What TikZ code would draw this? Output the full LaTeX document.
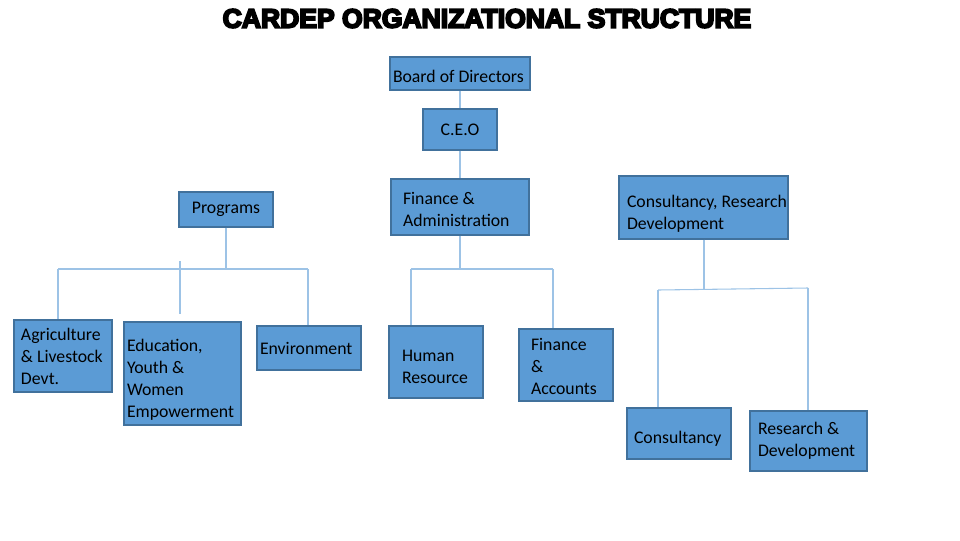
\documentclass[tikz,border=0pt]{standalone}
\usepackage{fontspec}
\usepackage{tikz}
\usepackage{xcolor}
\setmainfont{Carlito}
\font\cardepTitle="Liberation Sans/B:embolden=7" at 19.9pt
\usetikzlibrary{positioning,calc}
\definecolor{orgFill}{HTML}{5B9BD5}
\definecolor{orgEdge}{HTML}{41719C}
\definecolor{orgLink}{HTML}{9DC3E6}
\tikzset{
  orgBox/.style={draw=orgEdge, fill=orgFill, line width=0.9pt, align=flush left, inner ysep=0pt, font=\fontsize{13.3}{16.5}\selectfont},
  orgDrop/.style={execute at begin node={\rule{0pt}{#1}}},
  orgLine/.style={draw=orgLink, line width=0.8pt},
  titleText/.style={font=\cardepTitle, inner sep=0pt}
}

\begin{document}
\begin{tikzpicture}[x=0.75pt, y=-0.75pt]
  \useasboundingbox (0,0) rectangle (960,540);
  \node[titleText] (title) at (487,18.5) {CARDEP ORGANIZATIONAL STRUCTURE};
  \node[orgBox, orgDrop=14pt, minimum height=24.75pt, inner xsep=2.25pt, text width=100.5pt] (board) at (460,73.5) {\mbox{Board of Directors}};
  \node[orgBox, align=center, minimum width=55.5pt, minimum height=30.75pt] (ceo) at (460,129.5) {C.E.O};
  \node[orgBox, orgDrop=13.5pt, minimum height=42pt, inner xsep=9pt, text width=85.5pt] (finadm) at (460,207) {\mbox{Finance \&}\\Administration};
  \node[orgBox, align=center, minimum width=70.5pt, minimum height=26.25pt] (programs) at (226,209.5) {Programs};
  \node[orgBox, orgDrop=18.5pt, minimum height=47.25pt, inner xsep=6pt, text width=114.75pt] (crd) at (703.5,207.5) {\mbox{Consultancy, Research}\\Development};
  \node[orgBox, minimum height=54pt, inner xsep=5.25pt, text width=63pt] (agri) at (63,356) {Agriculture\\\mbox{\& Livestock}\\Devt.};
  \node[orgBox, orgDrop=18.5pt, minimum height=77.25pt, inner xsep=2.25pt, text width=83.25pt] (edu) at (182.5,373.5) {Education,\\\mbox{Youth \&}\\Women\\Empowerment};
  \node[orgBox, minimum height=33pt, inner xsep=2.25pt, text width=73.5pt] (env) at (309,348) {Environment};
  \node[orgBox, orgDrop=16.3pt, minimum height=54pt, inner xsep=9.75pt, text width=51pt] (hr) at (436,362) {Human\\Resource};
  \node[orgBox, orgDrop=11pt, minimum height=54pt, inner xsep=9pt, text width=52.5pt] (finacc) at (566,365) {Finance\\\&\\Accounts};
  \node[orgBox, orgDrop=17pt, minimum height=38.25pt, inner xsep=5.25pt, text width=67.5pt] (cons) at (679,433.5) {Consultancy};
  \node[orgBox, minimum height=45pt, inner xsep=6pt, text width=75.75pt] (resdev) at (808.5,441) {\mbox{Research \&}\\Development};
  \coordinate (progBar) at (226,270);
  \coordinate (progL) at (58,269);
  \coordinate (progR) at (308,269);
  \coordinate (progT) at (180,261);
  \coordinate (progB) at (180,314);
  \coordinate (finBar) at (460,269);
  \coordinate (finL) at (411,269);
  \coordinate (finR) at (553,269);
  \coordinate (crdBar) at (704,289);
  \coordinate (crdL) at (658,290);
  \coordinate (crdR) at (808,288);
  \draw[orgLine] (board) -- (ceo);
  \draw[orgLine] (ceo) -- (finadm);
  \draw[orgLine] (programs) -- (progBar);
  \draw[orgLine] (progL) -- (progR);
  \draw[orgLine] (progL) -- (progL |- agri.north);
  \draw[orgLine] (progR) -- (progR |- env.north);
  \draw[orgLine] (progT) -- (progB);
  \draw[orgLine] (finadm) -- (finBar);
  \draw[orgLine] (finL) -- (finR);
  \draw[orgLine] (finL) -- (finL |- hr.north);
  \draw[orgLine] (finR) -- (finR |- finacc.north);
  \draw[orgLine] (crdBar |- crd.south) -- (crdBar);
  \draw[orgLine] (crdL) -- (crdR);
  \draw[orgLine] (crdL) -- (crdL |- cons.north);
  \draw[orgLine] (crdR) -- (crdR |- resdev.north);
\end{tikzpicture}
\end{document}
